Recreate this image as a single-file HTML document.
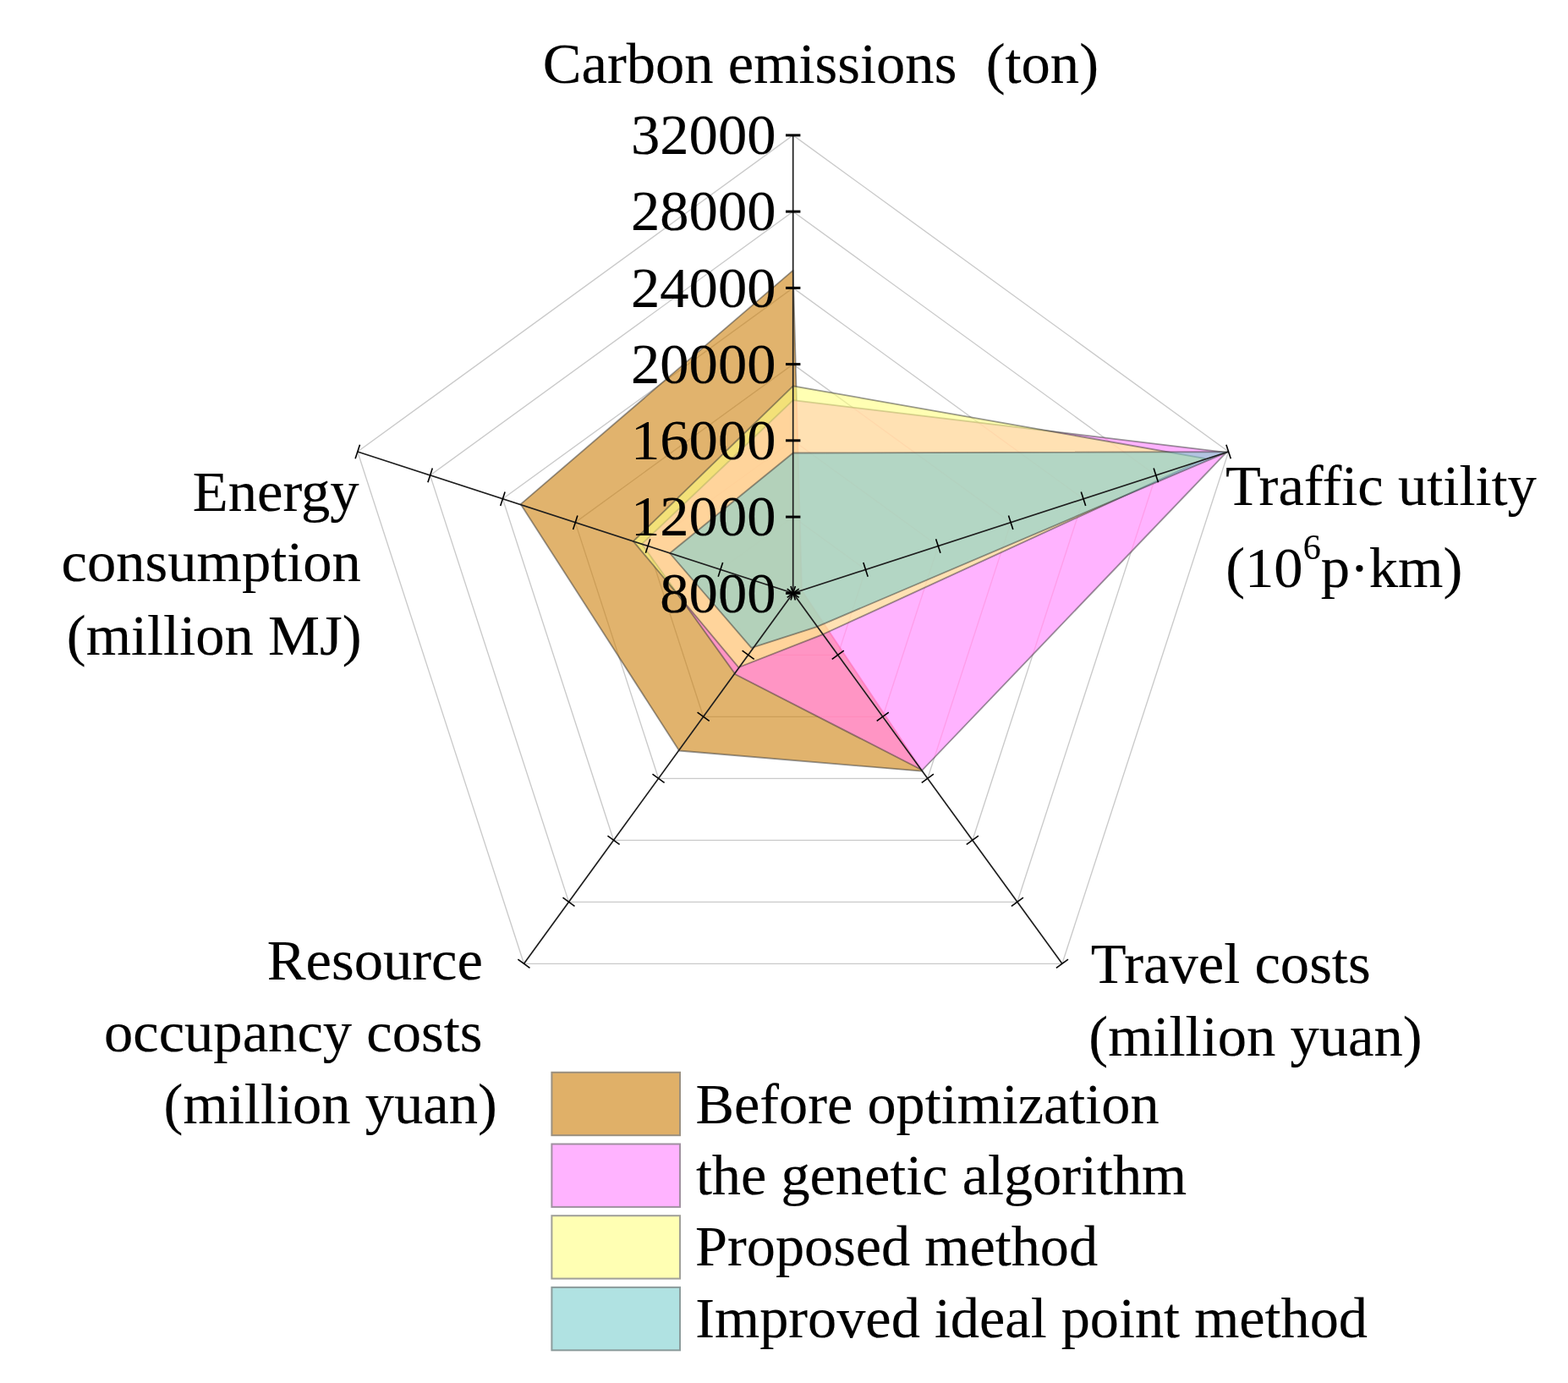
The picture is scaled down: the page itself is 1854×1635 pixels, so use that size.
<!DOCTYPE html>
<html lang="en"><head><meta charset="utf-8"><title>Radar chart</title>
<style>html,body{margin:0;padding:0;background:#fff}svg{display:block}</style></head>
<body>
<svg width="1854" height="1635" viewBox="0 0 1854 1635">
<rect width="1854" height="1635" fill="#fff"/>
<g fill="none" stroke="#cacaca" stroke-width="1.35">
<polygon points="937.7,611.1 1023.5,673.4 990.7,774.3 884.7,774.3 851.9,673.4"/>
<polygon points="937.7,520.8 1109.3,645.5 1043.8,847.3 831.6,847.3 766.1,645.5"/>
<polygon points="937.7,430.6 1195.2,617.6 1096.8,920.3 778.6,920.3 680.2,617.6"/>
<polygon points="937.7,340.4 1281.0,589.8 1149.9,993.3 725.5,993.3 594.4,589.8"/>
<polygon points="937.7,250.1 1366.8,561.9 1202.9,1066.3 672.5,1066.3 508.6,561.9"/>
<polygon points="937.7,159.9 1452.6,534.0 1255.9,1139.3 619.5,1139.3 422.8,534.0"/>
</g>
<polygon points="937.7,319.6 948.0,698.0 1090.6,911.7 803.1,887.5 615.6,596.1" fill="#cd800c" fill-opacity="0.6" stroke="#333" stroke-opacity="0.5" stroke-width="1.8" stroke-linejoin="round"/>
<polygon points="937.7,473.2 1450.0,534.8 1090.5,910.5 869.5,797.3 758.9,643.2" fill="#ff0000" style="mix-blend-mode:lighten"/>
<polygon points="937.7,473.2 1450.0,534.8 1090.5,910.5 869.5,797.3 758.9,643.2" fill="#ff80ff" fill-opacity="0.6" stroke="#333" stroke-opacity="0.5" stroke-width="1.8" stroke-linejoin="round"/>
<polygon points="937.7,456.3 1425.2,542.1 973.3,749.8 873.3,789.0 748.8,639.9" fill="#ffff80" fill-opacity="0.6" stroke="#333" stroke-opacity="0.5" stroke-width="1.8" stroke-linejoin="round"/>
<polygon points="937.7,535.5 1452.0,534.2 965.5,741.1 888.5,765.9 792.0,654.0" fill="#80cfcf" fill-opacity="0.6" stroke="#333" stroke-opacity="0.5" stroke-width="1.8" stroke-linejoin="round"/>
<g stroke="#1e1e1e" stroke-width="1.7" fill="none">
<line x1="937.7" y1="701.3" x2="937.7" y2="159.9"/>
<line x1="937.7" y1="701.3" x2="1452.6" y2="534.0"/>
<line x1="937.7" y1="701.3" x2="1255.9" y2="1139.3"/>
<line x1="937.7" y1="701.3" x2="619.5" y2="1139.3"/>
<line x1="937.7" y1="701.3" x2="422.8" y2="534.0"/>
</g>
<g stroke="#000" fill="none">
<line x1="946.4" y1="701.3" x2="929.0" y2="701.3" stroke-width="3"/>
<line x1="946.4" y1="611.1" x2="929.0" y2="611.1" stroke-width="3"/>
<line x1="946.4" y1="520.8" x2="929.0" y2="520.8" stroke-width="3"/>
<line x1="946.4" y1="430.6" x2="929.0" y2="430.6" stroke-width="3"/>
<line x1="946.4" y1="340.4" x2="929.0" y2="340.4" stroke-width="3"/>
<line x1="946.4" y1="250.1" x2="929.0" y2="250.1" stroke-width="3"/>
<line x1="946.4" y1="159.9" x2="929.0" y2="159.9" stroke-width="3"/>
<line x1="940.4" y1="709.6" x2="935.0" y2="693.0" stroke-width="1.6"/>
<line x1="1026.2" y1="681.7" x2="1020.8" y2="665.1" stroke-width="1.6"/>
<line x1="1112.0" y1="653.8" x2="1106.6" y2="637.3" stroke-width="1.6"/>
<line x1="1197.8" y1="625.9" x2="1192.5" y2="609.4" stroke-width="1.6"/>
<line x1="1283.7" y1="598.0" x2="1278.3" y2="581.5" stroke-width="1.6"/>
<line x1="1369.5" y1="570.2" x2="1364.1" y2="553.6" stroke-width="1.6"/>
<line x1="1455.3" y1="542.3" x2="1449.9" y2="525.7" stroke-width="1.6"/>
<line x1="930.7" y1="706.4" x2="944.7" y2="696.2" stroke-width="1.6"/>
<line x1="983.7" y1="779.4" x2="997.8" y2="769.2" stroke-width="1.6"/>
<line x1="1036.7" y1="852.4" x2="1050.8" y2="842.2" stroke-width="1.6"/>
<line x1="1089.8" y1="925.4" x2="1103.9" y2="915.2" stroke-width="1.6"/>
<line x1="1142.8" y1="998.4" x2="1156.9" y2="988.2" stroke-width="1.6"/>
<line x1="1195.9" y1="1071.4" x2="1209.9" y2="1061.2" stroke-width="1.6"/>
<line x1="1248.9" y1="1144.4" x2="1263.0" y2="1134.2" stroke-width="1.6"/>
<line x1="930.7" y1="696.2" x2="944.7" y2="706.4" stroke-width="1.6"/>
<line x1="877.6" y1="769.2" x2="891.7" y2="779.4" stroke-width="1.6"/>
<line x1="824.6" y1="842.2" x2="838.7" y2="852.4" stroke-width="1.6"/>
<line x1="771.5" y1="915.2" x2="785.6" y2="925.4" stroke-width="1.6"/>
<line x1="718.5" y1="988.2" x2="732.6" y2="998.4" stroke-width="1.6"/>
<line x1="665.5" y1="1061.2" x2="679.5" y2="1071.4" stroke-width="1.6"/>
<line x1="612.4" y1="1134.2" x2="626.5" y2="1144.4" stroke-width="1.6"/>
<line x1="940.4" y1="693.0" x2="935.0" y2="709.6" stroke-width="1.6"/>
<line x1="854.6" y1="665.1" x2="849.2" y2="681.7" stroke-width="1.6"/>
<line x1="768.8" y1="637.3" x2="763.4" y2="653.8" stroke-width="1.6"/>
<line x1="682.9" y1="609.4" x2="677.6" y2="625.9" stroke-width="1.6"/>
<line x1="597.1" y1="581.5" x2="591.7" y2="598.0" stroke-width="1.6"/>
<line x1="511.3" y1="553.6" x2="505.9" y2="570.2" stroke-width="1.6"/>
<line x1="425.5" y1="525.7" x2="420.1" y2="542.3" stroke-width="1.6"/>
</g>
<text id="carbon" x="641.7" y="98.2" font-family="Liberation Serif, serif" font-size="68.6" fill="#000" stroke="#000" stroke-width="0.15" xml:space="preserve">Carbon emissions  (ton)</text>
<text id="energy" x="227.8" y="603.7" font-family="Liberation Serif, serif" font-size="68.6" fill="#000" stroke="#000" stroke-width="0.15" xml:space="preserve">Energy</text>
<text id="consumption" x="72.5" y="687.2" font-family="Liberation Serif, serif" font-size="68.6" fill="#000" stroke="#000" stroke-width="0.15" xml:space="preserve">consumption</text>
<text id="millionMJ" x="78.8" y="773.5" font-family="Liberation Serif, serif" font-size="68.6" fill="#000" stroke="#000" stroke-width="0.15" xml:space="preserve">(million MJ)</text>
<text id="traffic" x="1449.1" y="596.6" font-family="Liberation Serif, serif" font-size="68.6" fill="#000" stroke="#000" stroke-width="0.15" xml:space="preserve">Traffic utility</text>
<text id="pkm" x="1449.2" y="694.3" font-family="Liberation Serif, serif" font-size="68.6" fill="#000" stroke="#000" stroke-width="0.15" xml:space="preserve">(10<tspan font-size="42" dy="-33.5">6</tspan><tspan dy="33.5">p·km)</tspan></text>
<text id="travel" x="1289.7" y="1162.4" font-family="Liberation Serif, serif" font-size="68.6" fill="#000" stroke="#000" stroke-width="0.15" xml:space="preserve">Travel costs</text>
<text id="myuan_r" x="1287.3" y="1247.8" font-family="Liberation Serif, serif" font-size="68.6" fill="#000" stroke="#000" stroke-width="0.15" xml:space="preserve">(million yuan)</text>
<text id="resource" x="315.8" y="1157.9" font-family="Liberation Serif, serif" font-size="68.6" fill="#000" stroke="#000" stroke-width="0.15" xml:space="preserve">Resource</text>
<text id="occupancy" x="122.9" y="1242.9" font-family="Liberation Serif, serif" font-size="68.6" fill="#000" stroke="#000" stroke-width="0.15" xml:space="preserve">occupancy costs</text>
<text id="myuan_l" x="193.6" y="1327.8" font-family="Liberation Serif, serif" font-size="68.6" fill="#000" stroke="#000" stroke-width="0.15" xml:space="preserve">(million yuan)</text>
<text id="before" x="822.5" y="1328.0" font-family="Liberation Serif, serif" font-size="68.3" fill="#000" stroke="#000" stroke-width="0.15" xml:space="preserve">Before optimization</text>
<text id="genetic" x="822.9" y="1411.8" font-family="Liberation Serif, serif" font-size="68.3" fill="#000" stroke="#000" stroke-width="0.15" xml:space="preserve">the genetic algorithm</text>
<text id="proposed" x="822.0" y="1496.3" font-family="Liberation Serif, serif" font-size="68.3" fill="#000" stroke="#000" stroke-width="0.15" xml:space="preserve">Proposed method</text>
<text id="improved" x="822.3" y="1581.0" font-family="Liberation Serif, serif" font-size="68.3" fill="#000" stroke="#000" stroke-width="0.15" xml:space="preserve">Improved ideal point method</text>
<text id="tk8000" x="780.3" y="723.6" font-family="Liberation Serif, serif" font-size="68.6" fill="#000" stroke="#000" stroke-width="0.15" xml:space="preserve">8000</text>
<text id="tk12000" x="746.0" y="633.4" font-family="Liberation Serif, serif" font-size="68.6" fill="#000" stroke="#000" stroke-width="0.15" xml:space="preserve">12000</text>
<text id="tk16000" x="746.0" y="543.1" font-family="Liberation Serif, serif" font-size="68.6" fill="#000" stroke="#000" stroke-width="0.15" xml:space="preserve">16000</text>
<text id="tk20000" x="746.0" y="452.9" font-family="Liberation Serif, serif" font-size="68.6" fill="#000" stroke="#000" stroke-width="0.15" xml:space="preserve">20000</text>
<text id="tk24000" x="746.0" y="362.7" font-family="Liberation Serif, serif" font-size="68.6" fill="#000" stroke="#000" stroke-width="0.15" xml:space="preserve">24000</text>
<text id="tk28000" x="746.0" y="272.4" font-family="Liberation Serif, serif" font-size="68.6" fill="#000" stroke="#000" stroke-width="0.15" xml:space="preserve">28000</text>
<text id="tk32000" x="746.0" y="182.2" font-family="Liberation Serif, serif" font-size="68.6" fill="#000" stroke="#000" stroke-width="0.15" xml:space="preserve">32000</text>
<rect x="652.4" y="1267.8" width="151.6" height="74.4" fill="#e0b068" stroke="#9a9080" stroke-width="2"/>
<rect x="652.4" y="1352.5" width="151.6" height="74.4" fill="#ffb3ff" stroke="#a090a0" stroke-width="2"/>
<rect x="652.4" y="1437.2" width="151.6" height="74.4" fill="#ffffb3" stroke="#a0a098" stroke-width="2"/>
<rect x="652.4" y="1521.9" width="151.6" height="74.4" fill="#b0e2e2" stroke="#8c9c9c" stroke-width="2"/>
</svg>
</body></html>
